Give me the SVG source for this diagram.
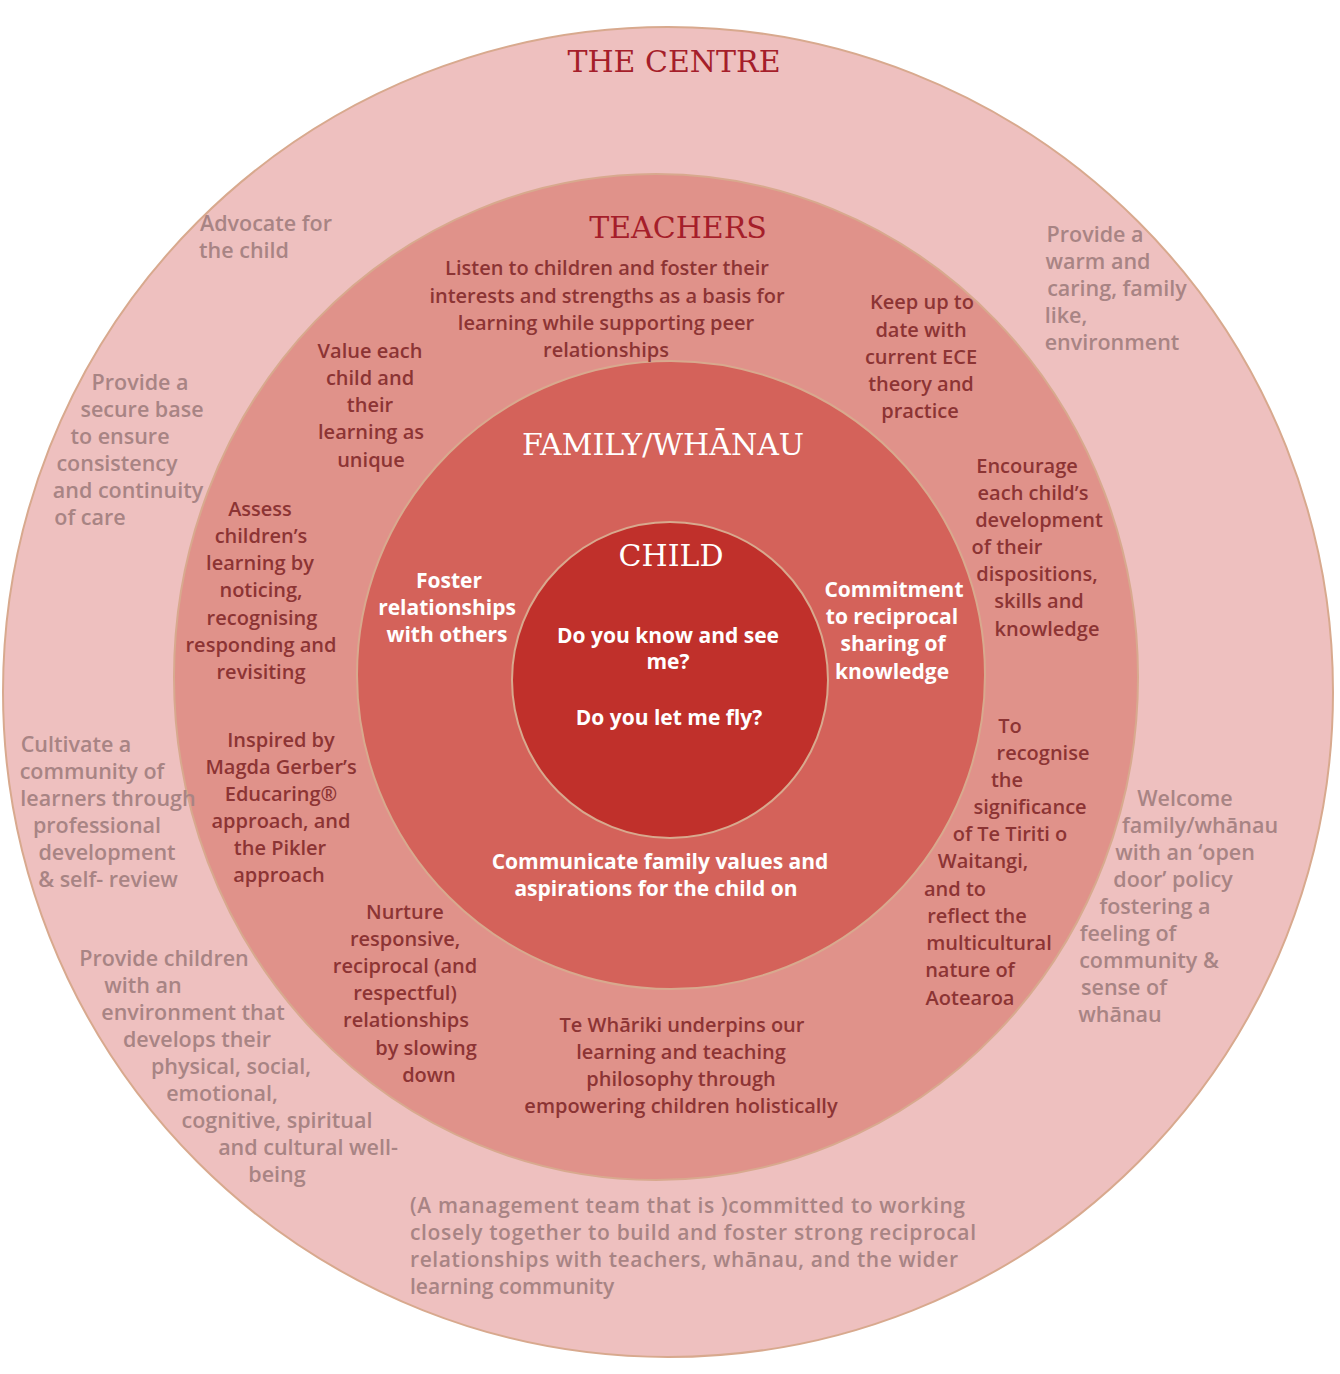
<svg xmlns="http://www.w3.org/2000/svg" width="1340" height="1374" viewBox="0 0 1340 1374">
<style>
.t{font-family:"Open Sans","Liberation Sans",sans-serif;font-size:20px;text-anchor:middle}
.o{fill:#a88484;font-weight:600;font-size:21.5px}
.m{fill:#8c3434;font-weight:600}
.w{fill:#ffffff;font-weight:700;font-size:21px}
.h{font-family:"DejaVu Serif","Liberation Serif",serif;font-size:30px;text-anchor:middle}
</style>
<rect width="1340" height="1374" fill="#ffffff"/>
<g id="centre"><circle cx="668" cy="692" r="665" fill="#eec0bf" stroke="#d8a98e" stroke-width="2"/></g>
<g id="teachers"><ellipse cx="656" cy="677" rx="482" ry="503" fill="#e0928a" stroke="#d8a98e" stroke-width="2"/></g>
<g id="family"><circle cx="671" cy="675" r="314" fill="#d4625a" stroke="#d8a98e" stroke-width="2"/></g>
<g id="child"><circle cx="670" cy="680" r="158" fill="#c0302b" stroke="#d8a98e" stroke-width="2"/></g>
<g id="connectors"/>
<g id="labels">
<text class="h" x="674" y="72" fill="#a51e2a">THE CENTRE</text>
<text class="h" x="678" y="238" fill="#a51e2a">TEACHERS</text>
<text class="h" x="663" y="455" fill="#ffffff">FAMILY/WHĀNAU</text>
<text class="h" x="671" y="566" fill="#ffffff">CHILD</text>
<g class="t o">
<text x="266" y="231">Advocate for</text><text x="244" y="258">the child</text>
<text x="140" y="390">Provide a</text><text x="142" y="417">secure base</text><text x="120" y="444">to ensure</text><text x="117" y="471">consistency</text><text x="128" y="498">and continuity</text><text x="90" y="525">of care</text>
<text x="1095" y="242">Provide a</text><text x="1098" y="269">warm and</text><text x="1117" y="296">caring, family</text><text x="1066" y="323">like,</text><text x="1112" y="350">environment</text>
<text x="76" y="752">Cultivate a</text><text x="92" y="779">community of</text><text x="108" y="806">learners through</text><text x="97" y="833">professional</text><text x="107" y="860">development</text><text x="108" y="887">&amp; self- review</text>
<text x="1185" y="806">Welcome</text><text x="1200" y="833">family/whānau</text><text x="1185" y="860">with  an ‘open</text><text x="1173" y="887">door’ policy</text><text x="1155" y="914">fostering a</text><text x="1128" y="941">feeling of</text><text x="1149" y="968">community &amp;</text><text x="1124" y="995">sense of</text><text x="1120" y="1022">whānau</text>
<text x="164" y="966">Provide children</text><text x="143" y="993">with an</text><text x="193" y="1020">environment that</text><text x="197" y="1047">develops their</text><text x="231" y="1074">physical, social,</text><text x="222" y="1101">emotional,</text><text x="277" y="1128">cognitive, spiritual</text><text x="308" y="1155">and cultural well-</text><text x="277" y="1182">being</text>
<g style="text-anchor:start;font-size:21px"><text x="410" y="1213" textLength="555">(A management team that is )committed to working</text><text x="410" y="1240" textLength="566">closely together to build and foster strong reciprocal</text><text x="410" y="1267" textLength="548">relationships with teachers, whānau, and the wider</text><text x="410" y="1294">learning community</text></g>
</g>
<g class="t m">
<text x="607" y="275">Listen to children and foster their</text><text x="607" y="303">interests and strengths as a basis for</text><text x="606" y="330">learning while supporting peer</text><text x="606" y="357">relationships</text>
<text x="370" y="358">Value each</text><text x="370" y="385">child and</text><text x="370" y="412">their</text><text x="371" y="439">learning as</text><text x="371" y="467">unique</text>
<text x="922" y="309">Keep up to</text><text x="921" y="337">date with</text><text x="921" y="364">current ECE</text><text x="921" y="391">theory and</text><text x="920" y="418">practice</text>
<text x="260" y="516">Assess</text><text x="261" y="543">children’s</text><text x="260" y="570">learning by</text><text x="261" y="597">noticing,</text><text x="262" y="625">recognising</text><text x="261" y="652">responding and</text><text x="261" y="679">revisiting</text>
<text x="1027" y="473">Encourage</text><text x="1033" y="500">each child’s</text><text x="1039" y="527">development</text><text x="1007" y="554">of their</text><text x="1037" y="581">dispositions,</text><text x="1039" y="608">skills and</text><text x="1047" y="636">knowledge</text>
<text x="281" y="747">Inspired by</text><text x="281" y="774">Magda Gerber’s</text><text x="281" y="801">Educaring®</text><text x="281" y="828">approach, and</text><text x="280" y="855">the Pikler</text><text x="279" y="882">approach</text>
<text x="1010" y="733">To</text><text x="1043" y="760">recognise</text><text x="1007" y="787">the</text><text x="1030" y="814">significance</text><text x="1010" y="841">of Te Tiriti o</text><text x="983" y="868">Waitangi,</text><text x="955" y="896">and to</text><text x="977" y="923">reflect the</text><text x="989" y="950">multicultural</text><text x="970" y="977">nature of</text><text x="970" y="1005">Aotearoa</text>
<text x="405" y="919">Nurture</text><text x="405" y="946">responsive,</text><text x="405" y="973">reciprocal  (and</text><text x="405" y="1000">respectful)</text><text x="406" y="1027">relationships</text><text x="426" y="1055">by slowing</text><text x="429" y="1082">down</text>
<text x="682" y="1032">Te Whāriki underpins our</text><text x="681" y="1059">learning and teaching</text><text x="681" y="1086">philosophy through</text><text x="681" y="1113">empowering children holistically</text>
</g>
<g class="t w">
<text x="449" y="588">Foster</text><text x="447" y="615">relationships</text><text x="447" y="642">with others</text>
<text x="894" y="597">Commitment</text><text x="892" y="624">to reciprocal</text><text x="893" y="651">sharing of</text><text x="892" y="679">knowledge</text>
<text x="660" y="869">Communicate family values and</text><text x="656" y="896">aspirations for the child on</text>
<text x="668" y="643">Do you know and see</text><text x="668" y="669">me?</text><text x="669" y="725">Do you let me fly?</text>
</g>
</g>
</svg>
